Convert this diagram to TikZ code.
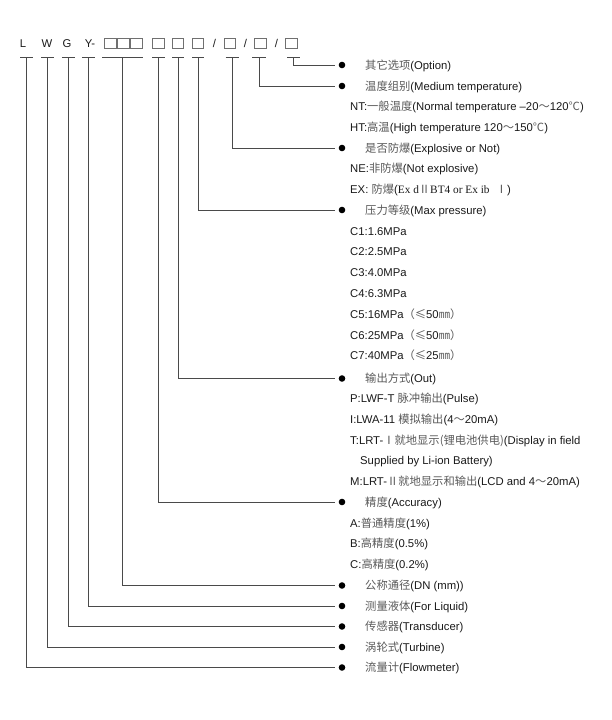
\documentclass[tikz,border=0pt]{standalone}
\usepackage{fontspec}
\setmainfont{Liberation Sans}
\newfontfamily\cjk{Noto Sans CJK SC}
\newfontfamily\tnr{Liberation Serif}
\definecolor{lncol}{HTML}{4A4A4A}
\definecolor{zhcol}{HTML}{5A5A5A}
\definecolor{txcol}{HTML}{1A1A1A}
\definecolor{boxcol}{HTML}{707070}
\newcommand\zh[1]{{\cjk\color{zhcol}#1}}
\begin{document}
\begin{tikzpicture}[x=1pt,y=-1pt,
  conn/.style={draw=lncol, line width=1pt},
  dot/.style={circle, fill=black, inner sep=0pt, minimum size=6.6pt},
  lbl/.style={anchor=west, inner sep=0pt, text height=8.1pt, text depth=0pt,
              font=\fontsize{11.3}{13}\selectfont, text=txcol},
  toplbl/.style={anchor=center, inner sep=0pt, text height=8.1pt, text depth=0pt,
              font=\fontsize{11.3}{13}\selectfont, text=txcol},
  phbox/.style={draw=boxcol, line width=0.7pt, minimum width=11.5pt,
              minimum height=10.5pt, inner sep=0pt}]
\useasboundingbox (0,0) rectangle (612,720);
\fill[white] (0,0) rectangle (612,720);

% ---- top code row ----
\node[toplbl] (cL) at (23,43) {L};
\node[toplbl] (cW) at (47,43) {W};
\node[toplbl] (cG) at (67,43) {G};
\node[toplbl] (cY) at (90,43) {Y-};
\node[phbox] (bx1) at (110.5,43.5) {};
\node[phbox] (bx2) at (123.5,43.5) {};
\node[phbox] (bx3) at (136.5,43.5) {};
\node[phbox] (bx4) at (158.5,43.5) {};
\node[phbox] (bx5) at (178,43.5) {};
\node[phbox] (bx6) at (198,43.5) {};
\node[toplbl] (sl1) at (214.5,43) {/};
\node[phbox] (bx7) at (230,43.5) {};
\node[toplbl] (sl2) at (245.5,43) {/};
\node[phbox] (bx8) at (260.5,43.5) {};
\node[toplbl] (sl3) at (276.5,43) {/};
\node[phbox] (bx9) at (291.5,43.5) {};

% ---- stem tops ----
\coordinate (sL)   at (26.7,57);
\coordinate (sW)   at (47.7,57);
\coordinate (sG)   at (68.3,57);
\coordinate (sY)   at (88.3,57);
\coordinate (sDN)  at (122.7,57);
\coordinate (sAcc) at (158,57);
\coordinate (sOut) at (178,57);
\coordinate (sPr)  at (198,57);
\coordinate (sEx)  at (232.5,57);
\coordinate (sTmp) at (259.5,57);
\coordinate (sOpt) at (293.5,57);

% ---- bullets ----
\node[dot] (dOpt) at (342,65) {};
\node[dot] (dTmp) at (342,86) {};
\node[dot] (dEx)  at (342,148) {};
\node[dot] (dPr)  at (342,210) {};
\node[dot] (dOut) at (342,378.5) {};
\node[dot] (dAcc) at (342,502) {};
\node[dot] (dDN)  at (342,585.5) {};
\node[dot] (dY)   at (342,606) {};
\node[dot] (dG)   at (342,626.5) {};
\node[dot] (dW)   at (342,647) {};
\node[dot] (dL)   at (342,667.5) {};

% ---- bars ----
\draw[conn] (sL)   ++(-6.5,0) -- ++(13,0);
\draw[conn] (sW)   ++(-6.5,0) -- ++(13,0);
\draw[conn] (sG)   ++(-6.5,0) -- ++(13,0);
\draw[conn] (sY)   ++(-6.5,0) -- ++(13,0);
\draw[conn] (sDN)  ++(-20.5,0) -- ++(41,0);
\draw[conn] (sAcc) ++(-6,0) -- ++(12.5,0);
\draw[conn] (sOut) ++(-6,0) -- ++(12,0);
\draw[conn] (sPr)  ++(-6,0) -- ++(12,0);
\draw[conn] (sEx)  ++(-7,0) -- ++(13,0);
\draw[conn] (sTmp) ++(-7.5,0) -- ++(13.5,0);
\draw[conn] (sOpt) ++(-6.5,0) -- ++(13,0);

% ---- connectors ----
\draw[conn, shorten >=3.5pt] (sOpt) |- (dOpt);
\draw[conn, shorten >=3.5pt] (sTmp) |- (dTmp);
\draw[conn, shorten >=3.5pt] (sEx)  |- (dEx);
\draw[conn, shorten >=3.5pt] (sPr)  |- (dPr);
\draw[conn, shorten >=3.5pt] (sOut) |- (dOut);
\draw[conn, shorten >=3.5pt] (sAcc) |- (dAcc);
\draw[conn, shorten >=3.5pt] (sDN)  |- (dDN);
\draw[conn, shorten >=3.5pt] (sY)   |- (dY);
\draw[conn, shorten >=3.5pt] (sG)   |- (dG);
\draw[conn, shorten >=3.5pt] (sW)   |- (dW);
\draw[conn, shorten >=3.5pt] (sL)   |- (dL);

% ---- labels ----
\node[lbl] (tOpt) at (365,65) {\zh{其它选项}(Option)};
\node[lbl] (tTmp) at (365,86) {\zh{温度组别}(Medium temperature)};
\node[lbl] (tNT)  at (350,106.5) {NT:\zh{一般温度}(Normal temperature –20\zh{～}120\zh{℃})};
\node[lbl] (tHT)  at (350,127) {HT:\zh{高温}(High temperature 120\zh{～}150\zh{℃})};
\node[lbl] (tEx)  at (365,148) {\zh{是否防爆}(Explosive or Not)};
\node[lbl] (tNE)  at (350,168.5) {NE:\zh{非防爆}(Not explosive)};
\node[lbl] (tEX)  at (350,189) {EX:\ \zh{防爆}({\tnr Ex d}\zh{Ⅱ}{\tnr BT4 or Ex ib}\ \ \zh{Ⅰ})};
\node[lbl] (tPr)  at (365,210) {\zh{压力等级}(Max pressure)};
\node[lbl] (tC1)  at (350,231) {C1:1.6MPa};
\node[lbl] (tC2)  at (350,251.5) {C2:2.5MPa};
\node[lbl] (tC3)  at (350,272.5) {C3:4.0MPa};
\node[lbl] (tC4)  at (350,293) {C4:6.3MPa};
\node[lbl] (tC5)  at (350,314) {C5:16MPa\zh{（≤}50\zh{㎜）}};
\node[lbl] (tC6)  at (350,335) {C6:25MPa\zh{（≤}50\zh{㎜）}};
\node[lbl] (tC7)  at (350,355.5) {C7:40MPa\zh{（≤}25\zh{㎜）}};
\node[lbl] (tOut) at (365,378.5) {\zh{输出方式}(Out)};
\node[lbl] (tP)   at (350,398.5) {P:LWF-T \zh{脉冲输出}(Pulse)};
\node[lbl] (tI)   at (350,419) {I:LWA-11 \zh{模拟输出}(4\zh{～}20mA)};
\node[lbl] (tT)   at (350,440) {T:LRT-\zh{Ⅰ就地显示(锂电池供电)}(Display in field};
\node[lbl] (tS)   at (360,460.5) {Supplied by Li-ion Battery)};
\node[lbl] (tM)   at (350,481) {M:LRT-\zh{Ⅱ就地显示和输出}(LCD and 4\zh{～}20mA)};
\node[lbl] (tAcc) at (365,502) {\zh{精度}(Accuracy)};
\node[lbl] (tA)   at (350,523) {A:\zh{普通精度}(1\%)};
\node[lbl] (tB)   at (350,543.5) {B:\zh{高精度}(0.5\%)};
\node[lbl] (tC)   at (350,564) {C:\zh{高精度}(0.2\%)};
\node[lbl] (tDN)  at (365,585.5) {\zh{公称通径}(DN (mm))};
\node[lbl] (tY)   at (365,606) {\zh{测量液体}(For Liquid)};
\node[lbl] (tG)   at (365,626.5) {\zh{传感器}(Transducer)};
\node[lbl] (tW)   at (365,647) {\zh{涡轮式}(Turbine)};
\node[lbl] (tL)   at (365,667.5) {\zh{流量计}(Flowmeter)};
\end{tikzpicture}
\end{document}
